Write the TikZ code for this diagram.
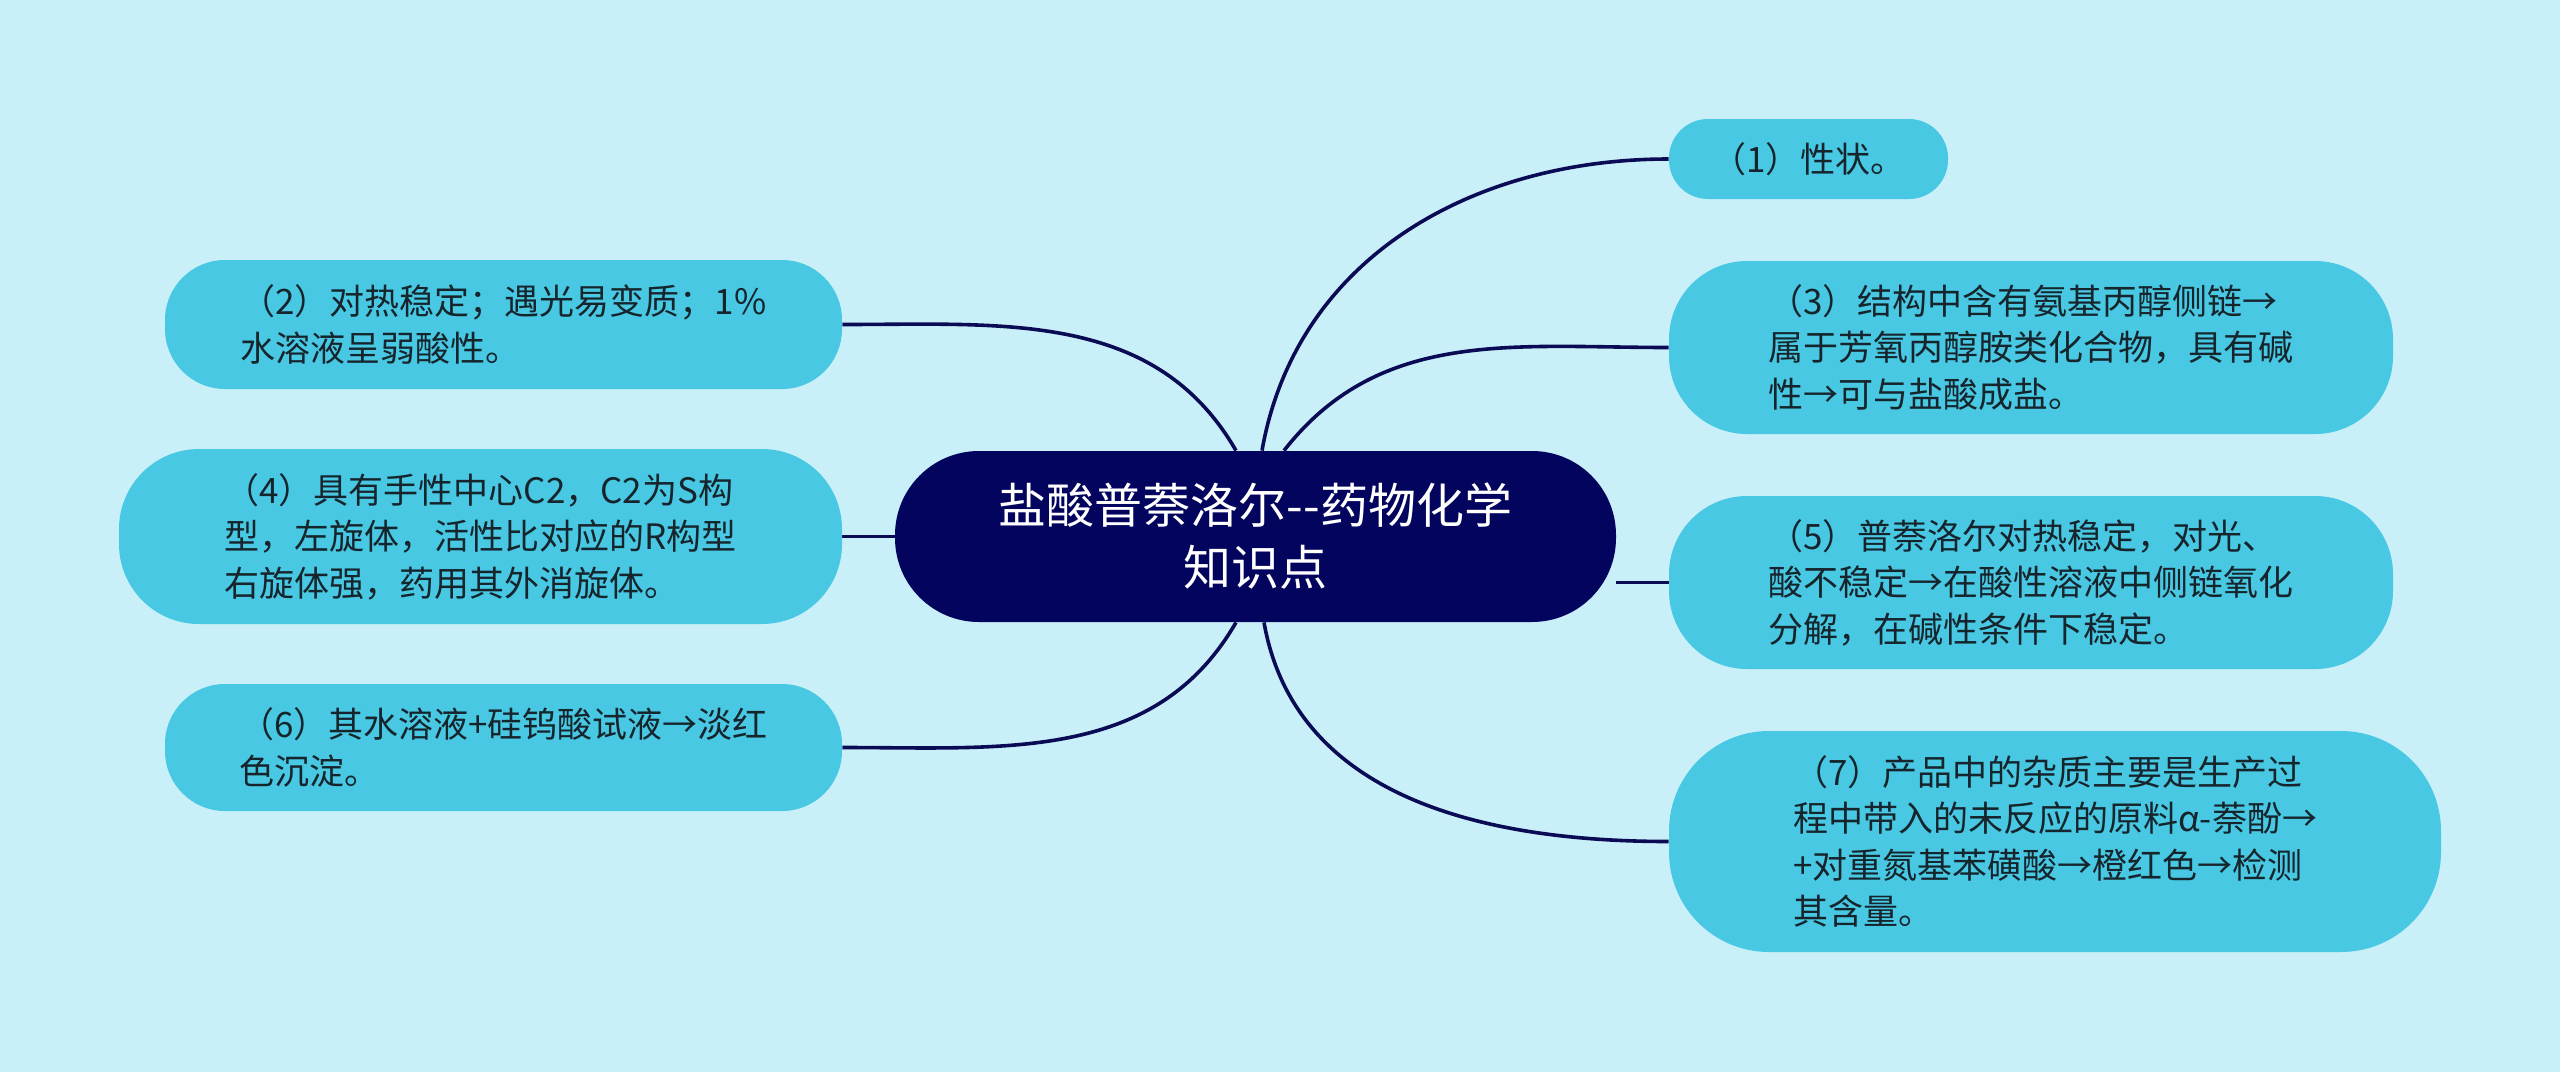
\documentclass[tikz,border=0pt]{standalone}
\usepackage{fontspec}
\newfontfamily\cjk{Noto Sans CJK SC}
\usetikzlibrary{calc}
\definecolor{mapBg}{HTML}{C9F0F8}
\definecolor{mapLeaf}{HTML}{48C8E3}
\definecolor{mapRoot}{HTML}{02045E}
\definecolor{mapLine}{HTML}{0A0A55}
\definecolor{mapText}{HTML}{16242C}
\pgfdeclarelayer{edgeLayer}
\pgfsetlayers{edgeLayer,main}
\tikzset{
  rootBox/.style={
    fill=mapRoot,
    text=white,
    align=center,
    inner sep=0pt,
    minimum width=360.5pt,
    minimum height=85.5pt,
    rounded corners=42pt,
    font=\cjk\fontsize{24}{31}\selectfont
  },
  leafBox/.style={
    fill=mapLeaf,
    text=mapText,
    align=left,
    inner sep=0pt,
    font=\cjk\fontsize{17.5}{23.25}\selectfont
  },
  mapEdge/.style={draw=mapLine, line width=1.8pt}
}

\begin{document}
\begin{tikzpicture}[x=0.5pt,y=-0.5pt]
  \useasboundingbox (0,0) rectangle (2560,1072);

  % centre
  \node[rootBox] (root) at (1255.5,536.5) {盐酸普萘洛尔--药物化学\\知识点};

  % right side
  \node[leafBox, minimum width=139.5pt, minimum height=40pt, rounded corners=19.5pt]
    (n1) at (1808.5,159) {（1）性状。};
  \node[leafBox, minimum width=362pt, minimum height=86.5pt, rounded corners=39pt]
    (n3) at (2031,347.5)
    {（3）结构中含有氨基丙醇侧链→\\属于芳氧丙醇胺类化合物，具有碱\\性→可与盐酸成盐。};
  \node[leafBox, minimum width=362pt, minimum height=86.5pt, rounded corners=39pt]
    (n5) at (2031,582.5)
    {（5）普萘洛尔对热稳定，对光、\\酸不稳定→在酸性溶液中侧链氧化\\分解，在碱性条件下稳定。};
  \node[leafBox, minimum width=386pt, minimum height=110.5pt, rounded corners=50pt]
    (n7) at (2055,841.5)
    {（7）产品中的杂质主要是生产过\\程中带入的未反应的原料α-萘酚→\\+对重氮基苯磺酸→橙红色→检测\\其含量。};

  % left side
  \node[leafBox, minimum width=338.5pt, minimum height=64.5pt, rounded corners=30pt]
    (n2) at (503.5,324.5)
    {（2）对热稳定；遇光易变质；1\%\\水溶液呈弱酸性。};
  \node[leafBox, minimum width=361.5pt, minimum height=87.5pt, rounded corners=40pt]
    (n4) at (480.5,536.5)
    {（4）具有手性中心C2，C2为S构\\型，左旋体，活性比对应的R构型\\右旋体强，药用其外消旋体。};
  \node[leafBox, minimum width=338.5pt, minimum height=63.5pt, rounded corners=30pt]
    (n6) at (503.5,747.5)
    {（6）其水溶液+硅钨酸试液→淡红\\色沉淀。};

  \begin{pgfonlayer}{edgeLayer}
    \fill[mapBg] (0,0) rectangle (2560,1072);
    \draw[mapEdge] ($(root.north)+(6.5,0)$) to[out=80, in=180] (n1.west);
    \draw[mapEdge] ($(root.north)+(28.5,0)$) to[out=52, in=180] (n3.west);
    \draw[mapEdge] (n5.west) -- (n5.west -| root.east);
    \draw[mapEdge] ($(root.south)+(8.5,0)$) to[out=-80, in=180] (n7.west);
    \draw[mapEdge] ($(root.north)+(-19.5,0)$) to[out=120, in=0] (n2.east);
    \draw[mapEdge] (root.west) -- (n4.east);
    \draw[mapEdge] ($(root.south)+(-19.5,0)$) to[out=-120, in=0] (n6.east);
  \end{pgfonlayer}
\end{tikzpicture}
\end{document}
